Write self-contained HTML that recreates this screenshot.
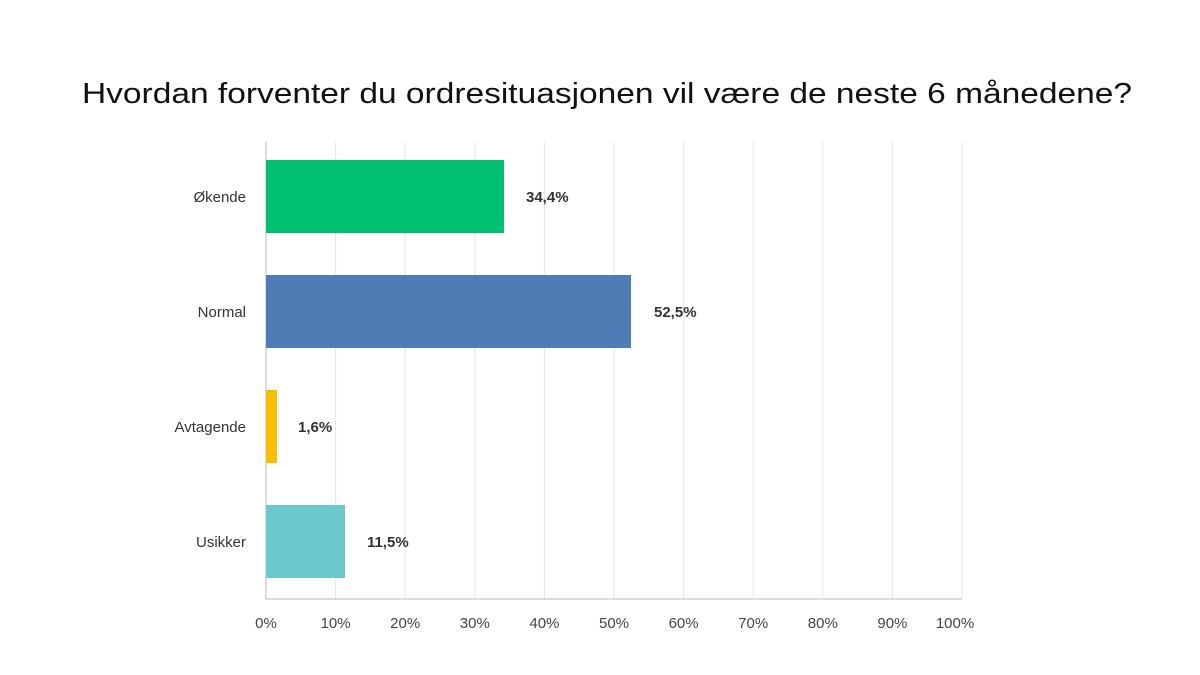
<!DOCTYPE html>
<html><head><style>body{margin:0;background:#fff}</style></head><body>
<svg width="1200" height="670" xmlns="http://www.w3.org/2000/svg" font-family="Liberation Sans, sans-serif">
<rect width="1200" height="670" fill="#fff"/>
<text x="82" y="103" font-size="29" textLength="1050" lengthAdjust="spacingAndGlyphs" fill="#111">Hvordan forventer du ordresituasjonen vil være de neste 6 månedene?</text>
<g stroke="#e8e8e8" stroke-width="1.2">
<line x1="335.6" y1="142" x2="335.6" y2="599"/><line x1="405.2" y1="142" x2="405.2" y2="599"/>
<line x1="474.8" y1="142" x2="474.8" y2="599"/><line x1="544.4" y1="142" x2="544.4" y2="599"/>
<line x1="614" y1="142" x2="614" y2="599"/><line x1="683.6" y1="142" x2="683.6" y2="599"/>
<line x1="753.2" y1="142" x2="753.2" y2="599"/><line x1="822.8" y1="142" x2="822.8" y2="599"/>
<line x1="892.4" y1="142" x2="892.4" y2="599"/><line x1="962" y1="142" x2="962" y2="599"/>
</g>
<line x1="266" y1="142" x2="266" y2="599" stroke="#d0d0d0" stroke-width="1.5"/>
<line x1="266" y1="599" x2="962" y2="599" stroke="#d0d0d0" stroke-width="1.5"/>
<rect x="266" y="160" width="238" height="73" fill="#00bf6f"/>
<rect x="266" y="275" width="365" height="73" fill="#507cb6"/>
<rect x="266" y="390" width="11" height="73" fill="#f9be00"/>
<rect x="266" y="505" width="79" height="73" fill="#6bc8cd"/>
<g font-size="15" fill="#333" text-anchor="end">
<text x="246" y="202">Økende</text><text x="246" y="317">Normal</text>
<text x="246" y="432">Avtagende</text><text x="246" y="547">Usikker</text>
</g>
<g font-size="15" fill="#333" font-weight="bold">
<text x="526" y="202">34,4%</text><text x="654" y="317">52,5%</text>
<text x="298" y="432">1,6%</text><text x="367" y="547">11,5%</text>
</g>
<g font-size="15" fill="#444" text-anchor="middle">
<text x="266" y="628">0%</text><text x="335.6" y="628">10%</text><text x="405.2" y="628">20%</text>
<text x="474.8" y="628">30%</text><text x="544.4" y="628">40%</text><text x="614" y="628">50%</text>
<text x="683.6" y="628">60%</text><text x="753.2" y="628">70%</text><text x="822.8" y="628">80%</text>
<text x="892.4" y="628">90%</text><text x="955" y="628">100%</text>
</g>
</svg>
</body></html>
